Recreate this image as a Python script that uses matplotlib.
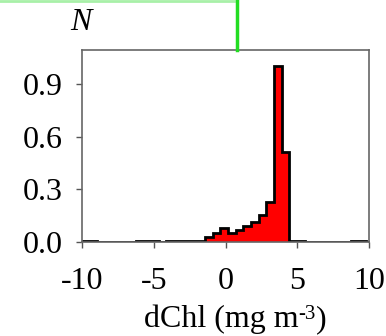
import numpy as np
import matplotlib
matplotlib.use("Agg")
import matplotlib.pyplot as plt
from matplotlib.lines import Line2D

plt.rcParams['font.family'] = ['Liberation Serif', 'DejaVu Serif']
plt.rcParams['axes.unicode_minus'] = False

# histogram of dChl, bins of ~0.535 starting at -10
bin_start = -10.0
bin_width = 0.535
freq = [0.005, 0.004, 0.002, 0.001, 0.001, 0.001, 0.002, 0.006, 0.004, 0.005,
        0.002, 0.004, 0.007, 0.008, 0.008, 0.008, 0.030, 0.050, 0.078, 0.050,
        0.068, 0.093, 0.116, 0.154, 0.227, 1.000, 0.510, 0.008, 0.004, 0.002,
        0.002, 0.002, 0.002, 0.002, 0.002, 0.003, 0.006, 0.002]
xticks = [-10, -5, 0, 5, 10]
yticks = [0.0, 0.3, 0.6, 0.9]

edges = bin_start + bin_width * np.arange(len(freq) + 1)

fig = plt.figure(figsize=(3.86, 3.36), dpi=100)
ax = fig.add_axes([0.2124, 0.2798, 0.7436, 0.5712])

ax.stairs(freq, edges, fill=True, color='#ff0000', baseline=0)
ax.stairs(freq, edges, fill=False, color='black', linewidth=2, baseline=0)

ax.set_xlim(-10, 10)
ax.set_ylim(0, 1.093)
ax.set_xticks(xticks)
ax.set_xticklabels([str(t) for t in xticks])
ax.set_yticks(yticks)
ax.set_yticklabels(['%.1f' % t for t in yticks])
ax.tick_params(direction='out', length=4, width=1, color='#555555',
               labelsize=23)
ax.tick_params(axis='y', pad=10)
ax.tick_params(axis='x', pad=14)
for s in ax.spines.values():
    s.set_color('#666666')
    s.set_linewidth(1.2)

# x label with a plain hyphen in the exponent
t1 = fig.text(0.373, 0.026, 'dChl (mg m', fontsize=23, ha='left', va='baseline')
t2 = plt.annotate('-3', xy=(1.0, 1.0), xycoords=t1, fontsize=15,
                  ha='left', va='top', annotation_clip=False)
plt.annotate(')', xy=(1.0, 0.0), xycoords=(t2, t1), fontsize=23,
             ha='left', va='bottom', annotation_clip=False)

fig.text(0.21, 0.932, 'N', fontsize=23, style='italic', ha='center', va='center')

# green guide lines at the top
fig.add_artist(Line2D([0, 0.605], [0.998, 0.998], color='#a8f0a8', linewidth=2,
                      transform=fig.transFigure))
fig.add_artist(Line2D([0.613, 0.613], [1.0, 0.851], color='#22dd22', linewidth=2.5,
                      transform=fig.transFigure))

fig.savefig('out.png', dpi=100)
